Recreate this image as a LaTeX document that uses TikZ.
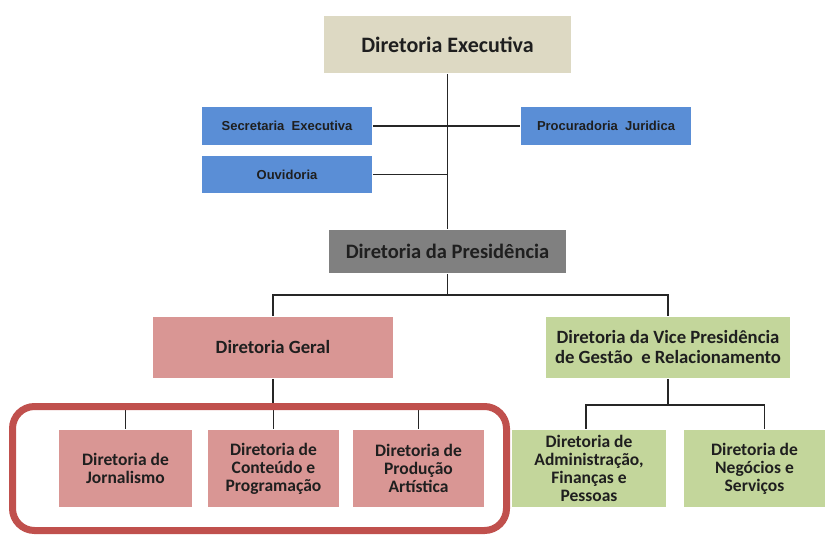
\documentclass[tikz,border=0pt]{standalone}
\usepackage{fontspec}
\setmainfont{Carlito}
\newfontfamily\arialfont{Liberation Sans}
\usetikzlibrary{calc}

\definecolor{execbeige}{HTML}{DDD9C3}
\definecolor{staffblue}{HTML}{5A8ED6}
\definecolor{presgray}{HTML}{808080}
\definecolor{geralpink}{HTML}{D99694}
\definecolor{vicegreen}{HTML}{C3D69B}
\definecolor{framered}{HTML}{C0504D}

\tikzset{
    box/.style     = {inner sep = 0pt, align = center, text = black!88, font = \bfseries},
    topbox/.style  = {box, fill = execbeige, minimum width = 247pt, minimum height = 57pt,
                      font = \bfseries\fontsize{22}{24}\selectfont},
    staffbox/.style= {box, fill = staffblue, minimum width = 170pt, minimum height = 38pt,
                      font = \arialfont\bfseries\fontsize{13}{15}\selectfont},
    presbox/.style = {box, fill = presgray, minimum width = 237pt, minimum height = 43pt,
                      font = \bfseries\fontsize{20.5}{22}\selectfont},
    midbox/.style  = {box, minimum height = 61pt, font = \bfseries\fontsize{18.7}{20}\selectfont},
    lowbox/.style  = {box, minimum height = 77pt, font = \bfseries\fontsize{17.5}{18}\selectfont},
    frame/.style   = {draw = framered, line width = 7pt, rounded corners = 22pt},
}

\begin{document}
\begin{tikzpicture}[x = 1pt, y = -1pt, black!85, line width = 1.6pt]

\useasboundingbox (0,0) rectangle (826,535);


% upper level
\node[topbox]   (exec) at (447.5, 44.5) {Diretoria Executiva};
\node[staffbox] (sec)  at (287, 126)    {Secretaria\ \ Executiva};
\node[staffbox] (proc) at (606, 126)    {Procuradoria\ \ Juridica};
\node[staffbox, minimum height = 37pt] (ouv) at (287, 174.5) {Ouvidoria};
\node[presbox]  (pres) at (447.5, 251.5) {Diretoria da Presid\^encia};

\draw (exec.south) -- (pres.north);
\draw (sec.east) -- (proc.west);
\draw (ouv.east) -- (ouv.east -| exec.south);


% middle level
\node[midbox, fill = geralpink, minimum width = 240pt] (geral) at (273, 347.5) {Diretoria Geral};
\node[midbox, fill = vicegreen, minimum width = 244pt] (vice)  at (668, 347.5)
    {Diretoria da Vice Presid\^encia\\de Gest\~ao\ \ e Relacionamento};

\coordinate (pj) at (447.5, 295);
\draw (pres.south) -- (pj);
\draw (geral.north) |- (pj) -| (vice.north);


% lower level
\node[lowbox, fill = geralpink, minimum width = 133pt] (jorn) at (125.5, 468.5) {Diretoria de\\Jornalismo};
\node[lowbox, fill = geralpink, minimum width = 131pt] (cont) at (273.5, 468.5) {Diretoria de\\Conte\'udo e\\Programa\c{c}\~ao};
\node[lowbox, fill = geralpink, minimum width = 131pt] (prod) at (418.5, 468.5) {Diretoria de\\Produ\c{c}\~ao\\Art\'istica};
\node[lowbox, fill = vicegreen, minimum width = 154pt] (adm)  at (589, 468.5)   {Diretoria de\\Administra\c{c}\~ao,\\Finan\c{c}as e\\Pessoas};
\node[lowbox, fill = vicegreen, minimum width = 141pt] (neg)  at (754.5, 468.5) {Diretoria de\\Neg\'ocios e\\Servi\c{c}os};

\coordinate (gj) at (273, 406.5);
\coordinate (vj) at (668, 405);

\draw (geral.south) -- (gj);
\foreach \NAME in {jorn, cont, prod}{
    \draw (gj) -| (\NAME.north);
    };

\draw (vice.south) -- (vj);
\draw (vj) -| ([xshift = -3pt]adm.north);
\draw (vj) -| ([xshift = 10pt]neg.north);

% highlight round the first three
\draw[frame] (12.5, 406.5) rectangle (506.5, 530.5);

\end{tikzpicture}
\end{document}
